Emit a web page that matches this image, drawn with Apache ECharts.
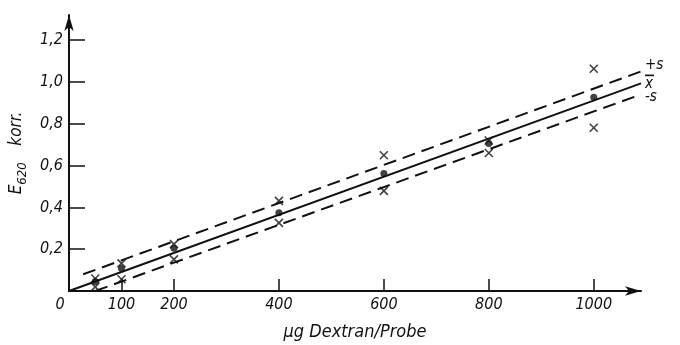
<!DOCTYPE html>
<html>
<head>
<meta charset="utf-8">
<script src="https://cdn.jsdelivr.net/npm/echarts@6/dist/echarts.min.js"></script>
<style>
  html, body { margin: 0; padding: 0; background: #fff; }
  #chart { width: 680px; height: 345px; }
</style>
</head>
<body>
<div id="chart"></div>
<script>
// Dextran standard curve
const doses = [50, 100, 200, 400, 600, 800, 1000];
const meanValues = [0.045, 0.108, 0.204, 0.374, 0.562, 0.705, 0.927];
const upperValues = [0.06, 0.132, 0.224, 0.431, 0.649, 0.72, 1.063];
const lowerValues = [0.02, 0.056, 0.151, 0.326, 0.479, 0.66, 0.781];

// fitted lines (x̄, +s, -s)
const meanLine = [[0, 0], [1090, 0.993]];
const plusLine = [[27, 0.08], [1090, 1.05]];
const minusLine = [[50, 0], [1090, 0.94]];

const xTicks = [0, 100, 200, 400, 600, 800, 1000];
const yTicks = [0.2, 0.4, 0.6, 0.8, 1.0, 1.2];

const INK = "#111";
const FONT = "DejaVu Sans Condensed";

const chart = echarts.init(document.getElementById("chart"));

const textBase = { color: INK, fontFamily: FONT, fontStyle: "italic", fontSize: 16 };
const crossSymbol = "path://M0,0L10,10M10,0L0,10";

function lineSeries(data, dashed, label, offsetY) {
  return {
    type: "line",
    data: data,
    showSymbol: false,
    clip: false,
    silent: true,
    lineStyle: { color: INK, width: 2, type: dashed ? [13, 7] : "solid" },
    endLabel: Object.assign({ show: true, formatter: label, distance: 4, offset: [0, offsetY] }, textBase, {
      fontSize: 15,
      rich: {
        bar: { width: 8, height: 1.6, lineHeight: 3, backgroundColor: INK, color: "transparent", padding: [0, 0, 0, 1] },
        x: Object.assign({}, textBase, { fontSize: 15, lineHeight: 14 }),
      },
    }),
  };
}

chart.setOption({
  backgroundColor: "#fff",
  animation: false,
  grid: { left: 69, right: 39, top: 15, bottom: 54, outerBoundsMode: "none" },
  xAxis: {
    type: "value",
    min: 0,
    max: 1090,
    name: "µg Dextran/Probe",
    nameLocation: "middle",
    nameGap: 32,
    nameTextStyle: Object.assign({}, textBase, { fontSize: 18 }),
    axisLine: { lineStyle: { color: INK, width: 2 }, symbol: ["none", "arrow"], symbolSize: [7, 16] },
    axisTick: { inside: true, length: 12, customValues: xTicks.slice(1), lineStyle: { color: INK, width: 1.5 } },
    axisLabel: Object.assign({}, textBase, {
      customValues: xTicks,
      margin: 6,
      formatter: (v) => (v === 0 ? "{z|0}" : String(v)),
      rich: { z: Object.assign({}, textBase, { padding: [0, 18, 0, 0] }) },
    }),
    splitLine: { show: false },
  },
  yAxis: {
    type: "value",
    min: 0,
    max: 1.32,
    name: "{e|E}{sub|620}     {e|korr.}",
    nameLocation: "middle",
    nameGap: 38,
    nameRotate: 90,
    nameTextStyle: {
      rich: {
        e: Object.assign({}, textBase, { fontSize: 17, lineHeight: 26, verticalAlign: "middle" }),
        sub: Object.assign({}, textBase, { fontSize: 13, lineHeight: 26, verticalAlign: "bottom" }),
      },
    },
    axisLine: { lineStyle: { color: INK, width: 2 }, symbol: ["none", "arrow"], symbolSize: [7, 16] },
    axisTick: { inside: true, length: 16, customValues: yTicks, lineStyle: { color: INK, width: 1.5 } },
    axisLabel: Object.assign({}, textBase, {
      customValues: yTicks,
      margin: 6,
      formatter: (v) => v.toFixed(1).replace(".", ","),
    }),
    splitLine: { show: false },
  },
  series: [
    lineSeries(plusLine, true, "+s", -6),
    lineSeries(meanLine, false, "{bar| }\n{x|x}", -1),
    lineSeries(minusLine, true, "-s", 3),
    {
      type: "scatter",
      data: doses.map((d, i) => [d, upperValues[i]]).concat(doses.map((d, i) => [d, lowerValues[i]])),
      symbol: crossSymbol,
      symbolSize: 8,
      itemStyle: { color: "transparent", borderColor: INK, borderWidth: 1.6 },
      z: 5,
    },
    {
      type: "scatter",
      data: doses.map((d, i) => [d, meanValues[i]]),
      symbol: "circle",
      symbolSize: 7,
      itemStyle: { color: INK },
      z: 6,
    },
  ],
});
</script>
</body>
</html>
